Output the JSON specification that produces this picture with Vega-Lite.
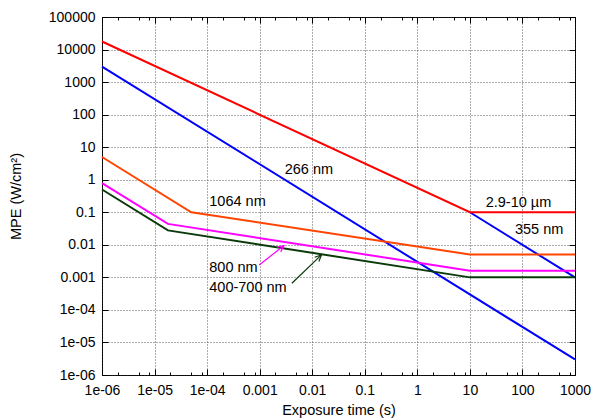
{
  "$schema": "https://vega.github.io/schema/vega-lite/v6.json",
  "width": 473,
  "height": 358,
  "autosize": {"type": "none"},
  "padding": {"left": 102, "top": 17, "right": 25, "bottom": 45},
  "background": "white",
  "config": {
    "font": "Liberation Sans",
    "view": {"stroke": "#000", "strokeWidth": 1},
    "axis": {
      "labelFontSize": 14,
      "labelColor": "#000",
      "labelOverlap": false,
      "labelFlush": false,
      "titleFontSize": 14.5,
      "titleFontWeight": "normal",
      "titleColor": "#000",
      "domain": false,
      "tickColor": "#000",
      "gridColor": "#333",
      "gridDash": [1, 2],
      "gridOpacity": 0.8
    }
  },
  "datasets": {
    "mpe": [
      {"laser": "266 nm", "t": 1e-6, "mpe": 3000},
      {"laser": "266 nm", "t": 1000, "mpe": 3e-6},
      {"laser": "355 nm", "t": 10, "mpe": 0.1},
      {"laser": "355 nm", "t": 1000, "mpe": 0.001},
      {"laser": "2.9-10 µm", "t": 1e-6, "mpe": 17700},
      {"laser": "2.9-10 µm", "t": 10, "mpe": 0.1},
      {"laser": "2.9-10 µm", "t": 1000, "mpe": 0.1},
      {"laser": "1064 nm", "t": 1e-6, "mpe": 5},
      {"laser": "1064 nm", "t": 5e-5, "mpe": 0.1},
      {"laser": "1064 nm", "t": 10, "mpe": 0.00506},
      {"laser": "1064 nm", "t": 1000, "mpe": 0.00506},
      {"laser": "800 nm", "t": 1e-6, "mpe": 0.79},
      {"laser": "800 nm", "t": 1.8e-5, "mpe": 0.044},
      {"laser": "800 nm", "t": 10, "mpe": 0.0016},
      {"laser": "800 nm", "t": 1000, "mpe": 0.0016},
      {"laser": "400-700 nm", "t": 1e-6, "mpe": 0.5},
      {"laser": "400-700 nm", "t": 1.8e-5, "mpe": 0.0278},
      {"laser": "400-700 nm", "t": 10, "mpe": 0.001},
      {"laser": "400-700 nm", "t": 1000, "mpe": 0.001}
    ],
    "labels": [
      {"label": "266 nm", "t": 0.003, "mpe": 2.0},
      {"label": "1064 nm", "t": 1.1e-4, "mpe": 0.2},
      {"label": "2.9-10 µm", "t": 20, "mpe": 0.19},
      {"label": "355 nm", "t": 72, "mpe": 0.029},
      {"label": "800 nm", "t": 1.1e-4, "mpe": 0.00195},
      {"label": "400-700 nm", "t": 1.1e-4, "mpe": 0.00048}
    ],
    "arrows": [
      {"laser": "800 nm", "t": 9.8e-4, "mpe": 0.0024, "t2": 0.0029, "mpe2": 0.0095},
      {"laser": "400-700 nm", "t": 0.0041, "mpe": 0.00066, "t2": 0.015, "mpe2": 0.0049}
    ]
  },
  "layer": [
    {
      "data": {"name": "mpe"},
      "mark": {"type": "line", "strokeWidth": 2},
      "encoding": {
        "x": {
          "field": "t",
          "type": "quantitative",
          "scale": {"type": "log", "domain": [1e-6, 1000], "nice": false},
          "axis": {
            "orient": "bottom",
            "values": [1e-6, 1e-5, 1e-4, 0.001, 0.01, 0.1, 1, 10, 100, 1000],
            "labelExpr": "datum.value < 0.0009 ? '1e-0' + round(-log(datum.value) / LN10) : '' + datum.value",
            "grid": true,
            "tickSize": -6,
            "labelPadding": 14,
            "title": "Exposure time (s)",
            "titleY": 28,
            "titleBaseline": "top"
          }
        },
        "y": {
          "field": "mpe",
          "type": "quantitative",
          "scale": {"type": "log", "domain": [1e-6, 100000], "nice": false},
          "axis": {
            "orient": "left",
            "values": [1e-6, 1e-5, 1e-4, 0.001, 0.01, 0.1, 1, 10, 100, 1000, 10000, 100000],
            "labelExpr": "datum.value < 0.0009 ? '1e-0' + round(-log(datum.value) / LN10) : '' + datum.value",
            "grid": true,
            "tickSize": -6,
            "labelPadding": 13,
            "title": "MPE (W/cm²)",
            "titleX": -86,
            "titleY": 179,
            "titleAngle": -90,
            "titleAlign": "center",
            "titleBaseline": "middle"
          }
        },
        "color": {
          "field": "laser",
          "type": "nominal",
          "scale": {
            "domain": ["266 nm", "355 nm", "2.9-10 µm", "1064 nm", "800 nm", "400-700 nm"],
            "range": ["#0000ff", "#0000ff", "#ff0000", "#ff4500", "#ff00ff", "#0a3a0a"]
          },
          "legend": null
        }
      }
    },
    {
      "data": {"name": "labels"},
      "mark": {"type": "text", "align": "left", "baseline": "middle", "fontSize": 14.5, "color": "#000"},
      "encoding": {
        "x": {
          "field": "t",
          "type": "quantitative",
          "axis": {
            "orient": "top",
            "values": [1e-6, 1e-5, 1e-4, 0.001, 0.01, 0.1, 1, 10, 100, 1000],
            "labels": false,
            "grid": false,
            "tickSize": -6,
            "title": null
          }
        },
        "y": {
          "field": "mpe",
          "type": "quantitative",
          "axis": {
            "orient": "right",
            "values": [1e-6, 1e-5, 1e-4, 0.001, 0.01, 0.1, 1, 10, 100, 1000, 10000, 100000],
            "labels": false,
            "grid": false,
            "tickSize": -6,
            "title": null
          }
        },
        "text": {"field": "label"}
      }
    },
    {
      "data": {"name": "arrows"},
      "mark": {"type": "rule", "strokeWidth": 1.2},
      "encoding": {
        "x": {
          "field": "t",
          "type": "quantitative",
          "axis": {
            "orient": "bottom",
            "values": [2e-6, 5e-6, 8e-6, 2e-5, 5e-5, 8e-5, 2e-4, 5e-4, 8e-4, 0.002, 0.005, 0.008, 0.02, 0.05, 0.08, 0.2, 0.5, 0.8, 2, 5, 8, 20, 50, 80, 200, 500, 800],
            "labels": false,
            "grid": false,
            "tickSize": -3,
            "title": null
          }
        },
        "y": {"field": "mpe", "type": "quantitative", "axis": null},
        "x2": {"field": "t2"},
        "y2": {"field": "mpe2"},
        "color": {"field": "laser", "type": "nominal", "legend": null}
      }
    },
    {
      "data": {"name": "arrows"},
      "transform": [{"filter": "datum.laser === '800 nm'"}],
      "mark": {"type": "point", "shape": "M -0.6 1.3 L 0 0 L 0.6 1.3", "filled": false, "angle": 52, "size": 100, "strokeWidth": 1.2, "opacity": 1},
      "encoding": {
        "x": {
          "field": "t2",
          "type": "quantitative",
          "axis": {
            "orient": "top",
            "values": [2e-6, 5e-6, 8e-6, 2e-5, 5e-5, 8e-5, 2e-4, 5e-4, 8e-4, 0.002, 0.005, 0.008, 0.02, 0.05, 0.08, 0.2, 0.5, 0.8, 2, 5, 8, 20, 50, 80, 200, 500, 800],
            "labels": false,
            "grid": false,
            "tickSize": -3,
            "title": null
          }
        },
        "y": {"field": "mpe2", "type": "quantitative", "axis": null},
        "color": {"field": "laser", "type": "nominal", "legend": null}
      }
    },
    {
      "data": {"name": "arrows"},
      "transform": [{"filter": "datum.laser === '400-700 nm'"}],
      "mark": {"type": "point", "shape": "M -0.6 1.3 L 0 0 L 0.6 1.3", "filled": false, "angle": 46, "size": 100, "strokeWidth": 1.2, "opacity": 1},
      "encoding": {
        "x": {"field": "t2", "type": "quantitative", "axis": null},
        "y": {"field": "mpe2", "type": "quantitative", "axis": null},
        "color": {"field": "laser", "type": "nominal", "legend": null}
      }
    }
  ],
  "resolve": {"axis": {"x": "independent", "y": "independent"}}
}
